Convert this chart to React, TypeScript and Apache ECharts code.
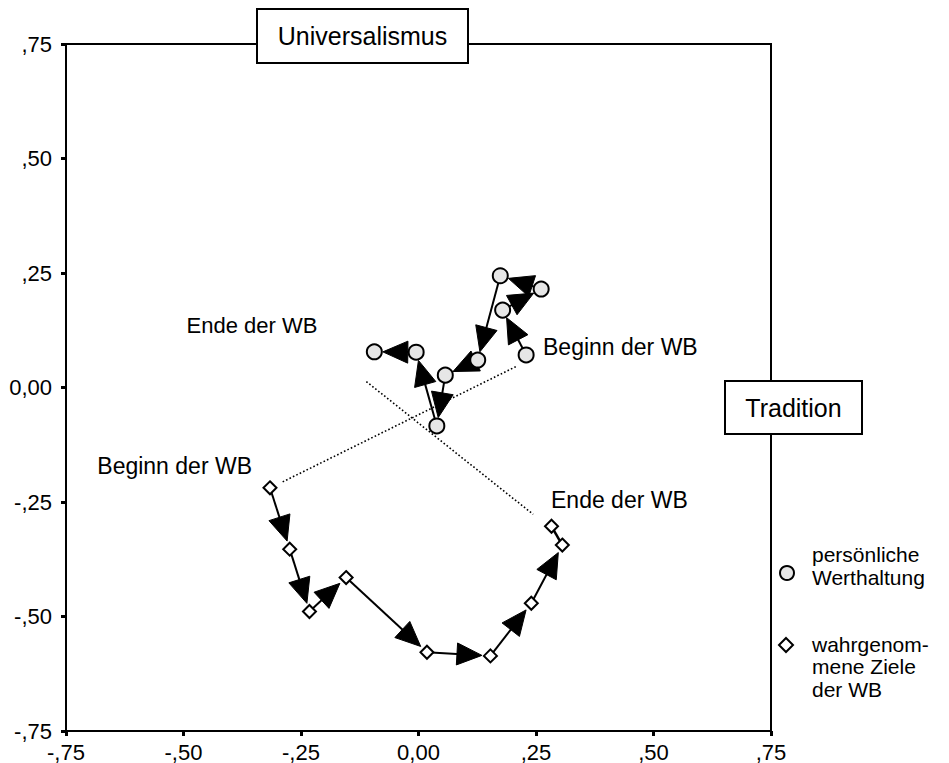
import React, { useEffect, useRef } from "react";
import * as echarts from "echarts";

// persönliche Werthaltung (circles), in time order: Beginn -> Ende
const circleX = [0.229, 0.179, 0.261, 0.174, 0.126, 0.057, 0.039, -0.005, -0.094];
const circleY = [0.071, 0.169, 0.215, 0.244, 0.06, 0.027, -0.084, 0.077, 0.078];

// wahrgenommene Ziele der WB (diamonds), in time order: Beginn -> Ende
const diamondX = [-0.316, -0.274, -0.232, -0.154, 0.018, 0.153, 0.24, 0.306, 0.283];
const diamondY = [-0.219, -0.353, -0.489, -0.415, -0.578, -0.586, -0.471, -0.344, -0.303];

// dotted connectors between the two "Beginn" and the two "Ende" points
const beginnLinkX = [-0.289, 0.208];
const beginnLinkY = [-0.206, 0.046];
const endeLinkX = [-0.111, 0.244];
const endeLinkY = [0.013, -0.277];

const axisTicks = [-0.75, -0.5, -0.25, 0, 0.25, 0.5, 0.75];

const legendCircleLines = ["persönliche", "Werthaltung"];
const legendDiamondLines = ["wahrgenom-", "mene Ziele", "der WB"];

const FONT = "'Liberation Sans', Arial, Helvetica, sans-serif";

function fmt(v: number): string {
  if (Math.abs(v) < 1e-9) return "0,00";
  const s = String(Math.round(Math.abs(v) * 100)).padStart(2, "0");
  return (v < 0 ? "-" : "") + "," + s;
}

function segments(xs: number[], ys: number[]) {
  const out: number[][] = [];
  for (let i = 0; i < xs.length - 1; i++) out.push([xs[i], ys[i], xs[i + 1], ys[i + 1]]);
  return out;
}

function renderArrow(params: any, api: any) {
  const p1 = api.coord([api.value(0), api.value(1)]);
  const p2 = api.coord([api.value(2), api.value(3)]);
  const dx = p2[0] - p1[0];
  const dy = p2[1] - p1[1];
  const len = Math.hypot(dx, dy);
  const ux = dx / len;
  const uy = dy / len;
  const children: any[] = [];
  if (len < 30) {
    children.push({
      type: "line",
      shape: { x1: p1[0], y1: p1[1], x2: p2[0], y2: p2[1] },
      style: { stroke: "#000", lineWidth: 2.5 },
    });
  } else {
    const gap = 8.5;
    const L = 25;
    const W = 11;
    const tip = [p2[0] - ux * gap, p2[1] - uy * gap];
    const base = [tip[0] - ux * L, tip[1] - uy * L];
    children.push({
      type: "line",
      shape: { x1: p1[0], y1: p1[1], x2: base[0] + ux * 4, y2: base[1] + uy * 4 },
      style: { stroke: "#000", lineWidth: 2 },
    });
    children.push({
      type: "polygon",
      shape: {
        points: [
          tip,
          [base[0] + uy * W, base[1] - ux * W],
          [base[0] - uy * W, base[1] + ux * W],
        ],
      },
      style: { fill: "#000", stroke: "#000", lineWidth: 1 },
    });
  }
  return { type: "group", children };
}

function textEl(text: string, x: number, y: number, size: number, align: string) {
  return {
    type: "text",
    x,
    y,
    z: 11,
    style: {
      text,
      fontSize: size,
      lineHeight: size,
      fontFamily: FONT,
      fill: "#000",
      align,
      verticalAlign: "middle",
    },
  };
}

export default function App() {
  const ref = useRef<HTMLDivElement>(null);
  useEffect(() => {
    if (!ref.current) return;
    const chart = echarts.init(ref.current, undefined, { renderer: "svg" });
    const circlePts = circleX.map((x, i) => [x, circleY[i]]);
    const diamondPts = diamondX.map((x, i) => [x, diamondY[i]]);
    const axisCommon = {
      type: "value" as const,
      min: -0.75,
      max: 0.75,
      interval: 0.25,
      splitLine: { show: false },
      axisLine: { show: true, onZero: false, lineStyle: { color: "#000", width: 2 } },
      axisTick: { show: true, length: 5, lineStyle: { color: "#000", width: 3 } },
      axisLabel: {
        color: "#000",
        fontFamily: FONT,
        fontSize: 22,
        formatter: (v: number) => fmt(v),
        customValues: axisTicks,
      },
    };
    const legendTexts: any[] = [];
    legendCircleLines.forEach((t, i) => legendTexts.push(textEl(t, 812, 554 + i * 23.5, 21, "left")));
    legendDiamondLines.forEach((t, i) => legendTexts.push(textEl(t, 812, 644 + i * 22.5, 21, "left")));
    chart.setOption({
      animation: false,
      backgroundColor: "#fff",
      grid: {
        left: 66,
        right: 178,
        top: 44,
        bottom: 32,
        show: true,
        borderColor: "#000",
        borderWidth: 2,
        backgroundColor: "transparent",
      },
      xAxis: { ...axisCommon, axisLabel: { ...axisCommon.axisLabel, margin: 10 } },
      yAxis: { ...axisCommon, axisLabel: { ...axisCommon.axisLabel, margin: 14 } },
      series: [
        {
          type: "line",
          data: beginnLinkX.map((x, i) => [x, beginnLinkY[i]]),
          symbol: "none",
          lineStyle: { color: "#000", width: 1.6, type: [1.6, 2.2] },
          z: 1,
          silent: true,
        },
        {
          type: "line",
          data: endeLinkX.map((x, i) => [x, endeLinkY[i]]),
          symbol: "none",
          lineStyle: { color: "#000", width: 1.6, type: [1.6, 2.2] },
          z: 1,
          silent: true,
        },
        {
          type: "custom",
          renderItem: renderArrow,
          data: segments(circleX, circleY),
          encode: { x: [0, 2], y: [1, 3] },
          z: 2,
          silent: true,
        },
        {
          type: "custom",
          renderItem: renderArrow,
          data: segments(diamondX, diamondY),
          encode: { x: [0, 2], y: [1, 3] },
          z: 2,
          silent: true,
        },
        {
          name: "persönliche Werthaltung",
          type: "scatter",
          data: circlePts,
          symbol: "circle",
          symbolSize: 15,
          itemStyle: { color: "#e6e6e6", borderColor: "#000", borderWidth: 2, opacity: 1 },
          z: 3,
        },
        {
          name: "wahrgenommene Ziele der WB",
          type: "scatter",
          data: diamondPts,
          symbol: "diamond",
          symbolSize: 13,
          itemStyle: { color: "#fff", borderColor: "#000", borderWidth: 2, opacity: 1 },
          z: 3,
        },
      ],
      graphic: [
        {
          type: "rect",
          shape: { x: 257, y: 9, width: 211, height: 54 },
          style: { fill: "#fff", stroke: "#000", lineWidth: 2 },
          z: 10,
        },
        textEl("Universalismus", 362.5, 36, 25, "center"),
        {
          type: "rect",
          shape: { x: 725, y: 381, width: 137, height: 53 },
          style: { fill: "#fff", stroke: "#000", lineWidth: 2 },
          z: 10,
        },
        textEl("Tradition", 793.5, 407.5, 25, "center"),
        textEl("Ende der WB", 252, 325, 22, "center"),
        textEl("Beginn der WB", 543, 347, 23, "left"),
        textEl("Beginn der WB", 252, 466, 23, "right"),
        textEl("Ende der WB", 551, 500, 23, "left"),
        {
          type: "circle",
          shape: { cx: 787, cy: 573, r: 7 },
          style: { fill: "#e6e6e6", stroke: "#000", lineWidth: 2 },
          z: 11,
        },
        {
          type: "polygon",
          shape: { points: [[786, 638], [793, 645], [786, 652], [779, 645]] },
          style: { fill: "#fff", stroke: "#000", lineWidth: 2 },
          z: 11,
        },
        ...legendTexts,
      ],
    });
    return () => chart.dispose();
  }, []);
  return (
    <div
      ref={ref}
      style={{ position: "absolute", left: 0, top: 0, width: 949, height: 763 }}
    />
  );
}
